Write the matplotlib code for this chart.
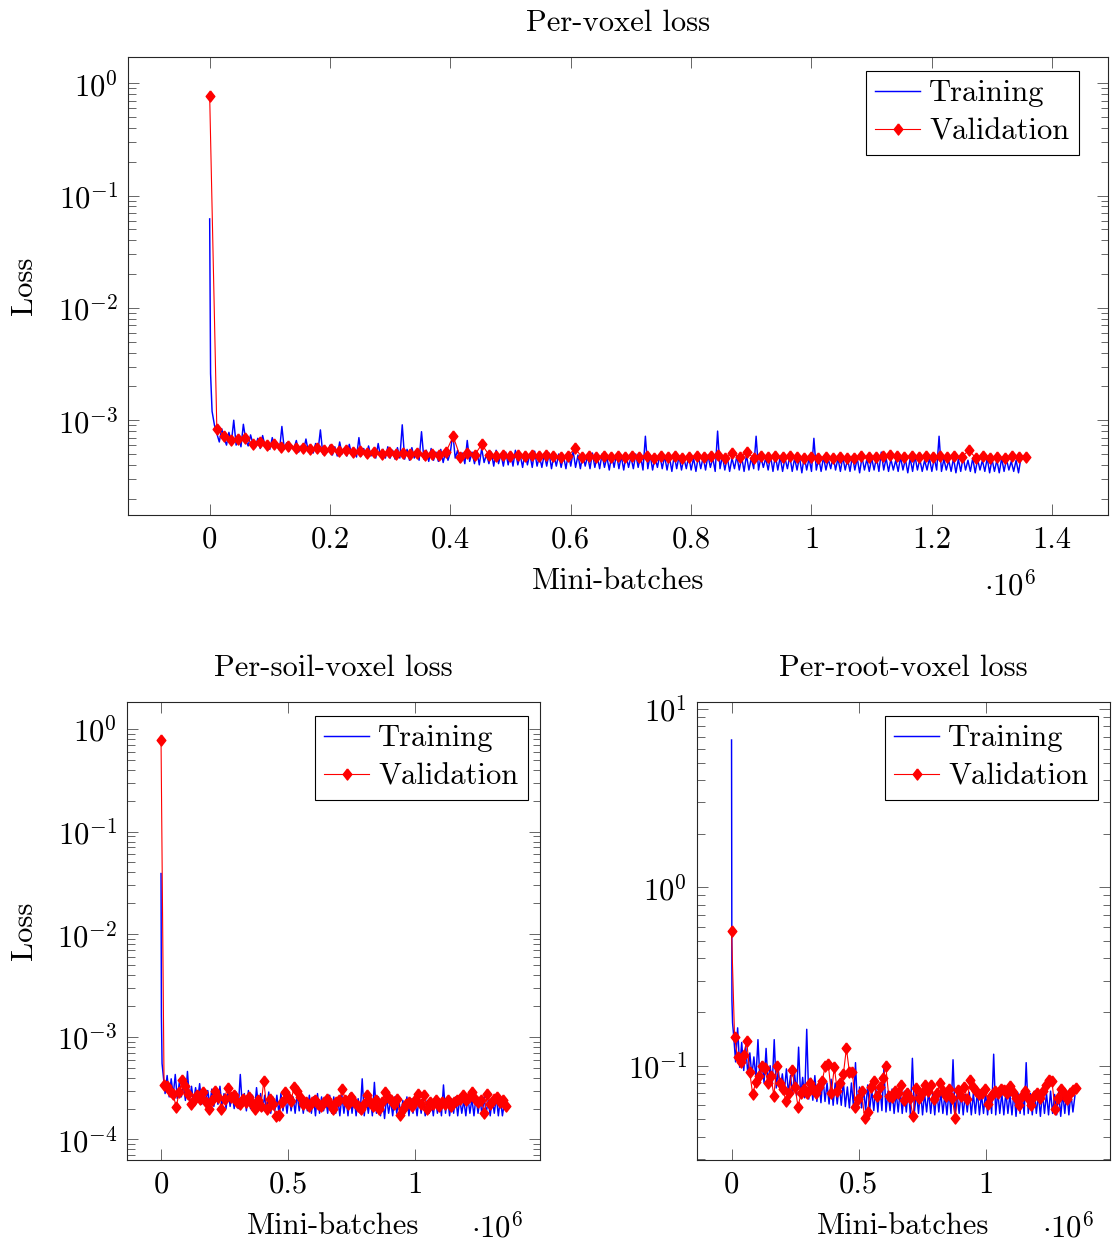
import numpy as np
import matplotlib
matplotlib.use('Agg')
import matplotlib.pyplot as plt

# Computer Modern look (pgfplots style)
plt.rcParams['font.family'] = 'serif'
plt.rcParams['font.serif'] = ['cmr10']
plt.rcParams['mathtext.fontset'] = 'cm'
plt.rcParams['axes.unicode_minus'] = False
plt.rcParams['axes.formatter.use_mathtext'] = True

FS = 22
VAL_STEP = 11900      # validation every ~11.9k mini-batches

# ---------- Per-voxel loss ----------
VOXEL_STEP = 4000
voxel_warm_x = [0, 1500]
voxel_warm = [0.062, 0.0026]
voxel_train = np.array([
    12, 9.0, 7.6, 6.4, 8.4, 6.9, 6.0, 7.8, 6.3, 10.0, 6.0, 7.2, 5.8, 9.2, 6.6, 5.9, 7.4, 6.1, 5.7, 6.9, 5.6, 7.3, 5.9, 6.5, 5.5,
    7.0, 5.6, 6.2, 5.4, 8.8, 5.5, 6.3, 5.3, 6.0, 5.6, 6.6, 5.2, 5.9, 5.4, 6.8, 5.2, 5.8, 5.1, 6.2, 5.3, 8.2, 5.0, 5.7, 5.2, 6.0,
    4.9, 5.8, 4.8, 6.4, 5.0, 5.6, 4.8, 6.1, 4.9, 5.5, 4.7, 7.0, 4.8, 5.6, 4.7, 5.9, 4.8, 5.4, 4.6, 6.2, 4.7, 5.5, 4.6, 5.8, 4.6,
    5.4, 4.5, 5.7, 4.6, 9.1, 4.5, 5.5, 4.4, 5.7, 4.6, 5.3, 4.4, 7.9, 4.5, 5.4, 4.3, 5.6, 4.4, 5.2, 4.3, 5.5, 4.2, 5.3, 4.4, 5.2,
    7.7, 4.6, 5.4, 4.2, 5.1, 4.1, 6.6, 4.3, 5.2, 4.1, 5.3, 4.0, 5.6, 4.2, 5.0, 4.1, 5.2, 3.9, 5.4, 4.1, 5.0, 3.9, 5.2, 4.0, 5.1,
    3.9, 5.4, 4.0, 4.9, 3.8, 5.2, 4.0, 5.0, 3.8, 5.3, 3.9, 4.8, 3.8, 5.0, 3.9, 5.1, 3.7, 4.9, 3.9, 5.0, 3.8, 4.8, 3.7, 5.1, 3.9,
    5.3, 3.8, 4.9, 3.7, 5.0, 3.9, 4.8, 3.7, 5.1, 3.8, 4.8, 3.7, 5.0, 3.8, 4.7, 3.6, 4.9, 3.8, 5.0, 3.7, 4.8, 3.6, 4.9, 3.8, 4.7,
    3.7, 5.0, 3.8, 4.8, 3.6, 7.2, 3.7, 4.9, 3.6, 4.7, 3.8, 4.9, 3.7, 4.8, 3.6, 4.7, 3.5, 4.9, 3.7, 4.8, 3.6, 4.6, 3.7, 4.8, 3.6,
    4.6, 3.5, 4.8, 3.7, 4.7, 3.6, 4.9, 3.8, 4.6, 3.5, 8.0, 3.7, 4.8, 3.6, 4.7, 3.5, 4.6, 3.7, 4.8, 3.6, 4.7, 3.5, 4.9, 3.6, 4.6,
    3.7, 7.2, 3.6, 4.7, 3.8, 4.6, 3.6, 4.8, 3.5, 4.9, 3.6, 4.7, 3.5, 4.6, 3.7, 4.8, 3.5, 4.6, 3.6, 4.7, 3.4, 4.8, 3.6, 4.6, 3.5,
    6.9, 3.6, 4.6, 3.5, 4.7, 3.6, 4.5, 3.7, 4.8, 3.6, 4.6, 3.5, 4.7, 3.6, 4.5, 3.5, 4.8, 3.6, 4.6, 3.4, 4.7, 3.6, 4.5, 3.5, 4.6,
    3.6, 4.7, 3.5, 5.2, 3.6, 4.6, 3.5, 4.5, 3.6, 4.4, 3.5, 4.7, 3.6, 4.5, 3.4, 4.6, 3.5, 4.8, 3.6, 4.5, 3.5, 4.4, 3.6, 4.6, 3.5,
    4.6, 3.6, 7.2, 3.5, 4.5, 3.6, 4.4, 3.5, 4.6, 3.4, 4.5, 3.5, 4.7, 3.6, 4.4, 3.5, 4.6, 3.4, 4.5, 3.6, 4.4, 3.5, 4.6, 3.4, 4.5,
    3.5, 4.4, 3.4, 4.6, 3.5, 4.5, 3.6, 4.3, 3.5, 4.4, 3.4, 4.6, 4.8]) * 1e-4
voxel_val = np.array([
    7750, 8.4, 7.3, 6.6, 6.8, 6.9, 6.2, 6.4, 6.0, 6.1, 5.8, 5.9, 5.7, 5.6, 5.5,
    5.6, 5.4, 5.5, 5.3, 5.4, 5.2, 5.3, 5.1, 5.2, 5.0, 5.2, 5.0, 5.1, 5.0, 5.1,
    4.9, 5.0, 4.9, 5.2, 7.2, 4.7, 5.1, 4.9, 6.1, 4.9, 4.8, 4.9, 4.8, 4.9, 4.8,
    4.9, 4.8, 4.9, 4.8, 4.7, 4.8, 5.6, 4.7, 4.8, 4.7, 4.8, 4.7, 4.8, 4.7, 4.8,
    4.7, 4.8, 4.6, 4.8, 4.7, 4.8, 4.6, 4.7, 4.8, 4.7, 4.8, 4.9, 4.6, 5.1, 4.7,
    5.2, 4.6, 4.8, 4.7, 4.8, 4.7, 4.8, 4.7, 4.6, 4.7, 4.6, 4.7, 4.6, 4.7, 4.6,
    4.6, 4.8, 4.7, 4.7, 4.8, 4.9, 4.8, 4.7, 4.8, 4.7, 4.8, 4.7, 4.8, 4.7, 4.8,
    4.7, 5.4, 4.6, 4.8, 4.6, 4.7, 4.6, 4.8, 4.7, 4.7]) * 1e-4

# ---------- Per-soil-voxel loss ----------
SOIL_STEP = 8000
soil_warm_x = [0, 1500, 4000]
soil_warm = [0.039, 0.0016, 0.00055]
soil_train = np.array([
    4.4, 2.8, 4.2, 2.6, 3.9, 2.7, 4.3, 2.5, 3.6, 2.6, 3.4, 2.4,
    4.6, 2.4, 3.3, 2.3, 3.2, 2.4, 3.5, 2.2, 3.1, 2.3, 3.0, 2.2,
    3.1, 2.1, 2.9, 2.2, 3.3, 2.1, 2.8, 2.0, 3.0, 2.1, 2.8, 2.0,
    2.9, 2.0, 4.3, 2.1, 2.8, 1.9, 3.0, 2.0, 2.7, 1.9, 3.2, 2.0,
    2.8, 1.9, 2.7, 1.9, 2.9, 1.8, 2.6, 1.9, 2.7, 1.8, 2.8, 1.9,
    2.6, 1.8, 2.7, 1.9, 2.6, 1.8, 2.8, 1.9, 2.6, 1.8, 2.5, 1.9,
    2.7, 1.8, 2.6, 1.7, 2.8, 1.8, 2.6, 1.9, 2.5, 1.8, 2.7, 1.8,
    2.6, 1.8, 2.5, 1.7, 2.7, 1.8, 2.6, 1.7, 2.8, 1.8, 2.6, 1.7,
    2.5, 1.8, 3.9, 1.7, 2.6, 1.8, 2.5, 1.7, 3.6, 1.8, 2.6, 1.7,
    2.5, 1.6, 2.6, 1.8, 2.4, 1.7, 2.6, 1.8, 2.5, 1.7, 2.4, 1.8,
    2.6, 1.7, 2.5, 1.8, 2.4, 1.7, 2.6, 1.8, 2.5, 1.7, 2.4, 1.8,
    2.5, 1.7, 2.6, 1.8, 2.5, 1.7, 3.4, 1.8, 2.6, 1.7, 2.5, 1.8,
    2.6, 1.7, 2.5, 1.8, 2.4, 1.7, 2.6, 1.8, 2.5, 1.7, 2.6, 1.8,
    2.5, 1.7, 2.6, 1.8, 2.4, 1.7, 2.5, 1.8, 2.6, 1.7, 2.5, 1.7, 2.3]) * 1e-4
soil_val = np.array([
    7800, 3.4, 3.3, 3.0, 2.8, 2.05, 2.9, 3.8, 3.3, 2.8, 2.2, 2.4, 2.7, 2.5, 2.9,
    2.3, 2.0, 2.4, 3.0, 2.6, 2.0, 2.5, 3.2, 2.6, 2.7, 2.3, 2.2, 2.5, 2.3, 2.6,
    2.2, 2.0, 2.4, 2.1, 3.7, 2.0, 2.5, 2.2, 1.7, 1.75, 2.3, 2.9, 2.6, 2.35, 3.25,
    3.0, 2.6, 2.2, 2.3, 2.1, 2.3, 2.4, 2.2, 2.1, 2.3, 2.5, 2.2, 2.0, 2.3, 2.4,
    3.1, 2.4, 2.2, 2.6, 2.3, 2.1, 2.0, 2.2, 2.7, 2.3, 2.1, 2.4, 2.0, 2.3, 2.9,
    2.6, 2.4, 2.2, 2.5, 1.75, 2.0, 2.2, 2.3, 2.1, 2.4, 2.8, 2.2, 2.7, 2.0, 2.3,
    2.2, 2.4, 2.1, 2.3, 2.2, 2.4, 2.1, 2.3, 2.4, 2.5, 2.7, 2.4, 2.6, 2.9, 2.5,
    2.3, 2.4, 1.8, 2.8, 2.2, 2.5, 2.6, 2.3, 2.4, 2.1]) * 1e-4

# ---------- Per-root-voxel loss ----------
ROOT_STEP = 8000
root_warm_x = [0, 1500, 4000]
root_warm = [6.7, 0.233, 0.174]
root_train = np.array([
    0.150, 0.105, 0.163, 0.098, 0.135, 0.094, 0.128, 0.090, 0.118, 0.088, 0.112, 0.085,
    0.140, 0.082, 0.105, 0.080, 0.125, 0.078, 0.100, 0.077, 0.140, 0.075, 0.095, 0.074,
    0.090, 0.072, 0.096, 0.070, 0.088, 0.069, 0.092, 0.068, 0.127, 0.067, 0.086, 0.066,
    0.160, 0.065, 0.085, 0.064, 0.088, 0.063, 0.082, 0.062, 0.086, 0.063, 0.080, 0.061,
    0.084, 0.060, 0.080, 0.061, 0.078, 0.060, 0.082, 0.059, 0.076, 0.058, 0.080, 0.059,
    0.104, 0.057, 0.076, 0.058, 0.074, 0.056, 0.078, 0.057, 0.073, 0.056, 0.075, 0.055,
    0.076, 0.056, 0.097, 0.055, 0.072, 0.056, 0.074, 0.054, 0.071, 0.055, 0.073, 0.054,
    0.072, 0.055, 0.074, 0.053, 0.110, 0.055, 0.071, 0.054, 0.073, 0.053, 0.070, 0.055,
    0.072, 0.054, 0.070, 0.053, 0.073, 0.055, 0.071, 0.054, 0.069, 0.053, 0.072, 0.054,
    0.108, 0.053, 0.070, 0.054, 0.072, 0.053, 0.069, 0.055, 0.071, 0.053, 0.070, 0.054,
    0.072, 0.053, 0.069, 0.054, 0.071, 0.053, 0.070, 0.054, 0.116, 0.053, 0.072, 0.054,
    0.070, 0.053, 0.071, 0.054, 0.069, 0.053, 0.072, 0.052, 0.070, 0.054, 0.071, 0.053,
    0.104, 0.054, 0.070, 0.053, 0.072, 0.054, 0.069, 0.052, 0.071, 0.054, 0.070, 0.053,
    0.072, 0.054, 0.069, 0.053, 0.071, 0.052, 0.070, 0.054, 0.072, 0.053, 0.070, 0.055, 0.068])
root_val = np.array([
    0.571, 0.144, 0.112, 0.105, 0.115, 0.138, 0.0925, 0.069, 0.081, 0.088, 0.099,
    0.097, 0.080, 0.088, 0.068, 0.100, 0.080, 0.074, 0.063, 0.070, 0.094, 0.076,
    0.059, 0.070, 0.074, 0.070, 0.080, 0.074, 0.070, 0.076, 0.082, 0.100, 0.102,
    0.070, 0.098, 0.072, 0.080, 0.090, 0.125, 0.092, 0.092, 0.059, 0.065, 0.072,
    0.051, 0.055, 0.076, 0.082, 0.068, 0.076, 0.085, 0.100, 0.068, 0.067, 0.072,
    0.070, 0.078, 0.064, 0.070, 0.066, 0.052, 0.075, 0.066, 0.070, 0.078, 0.072,
    0.078, 0.065, 0.070, 0.080, 0.072, 0.068, 0.074, 0.066, 0.051, 0.073, 0.068,
    0.076, 0.065, 0.083, 0.076, 0.072, 0.069, 0.070, 0.074, 0.061, 0.068, 0.072,
    0.070, 0.074, 0.073, 0.070, 0.077, 0.071, 0.066, 0.060, 0.068, 0.072, 0.066,
    0.060, 0.068, 0.070, 0.066, 0.072, 0.078, 0.083, 0.082, 0.057, 0.066, 0.074,
    0.070, 0.065, 0.070, 0.073, 0.075])

DIAMOND = [(0, 1), (0.78, 0), (0, -1), (-0.78, 0), (0, 1)]


def panel(ax, warm_x, warm, step, train, val, title, xlim, ylim, xticks, xlabels,
          ydec, ylabel=None):
    tx = np.concatenate([warm_x, step * np.arange(1, len(train) + 1)])
    ty = np.concatenate([warm, train])
    vx = VAL_STEP * np.arange(len(val))
    ax.plot(tx, ty, color='#0000ff', lw=1.05, label='Training')
    ax.plot(vx, val, color='#ff0000', lw=0.8, marker=DIAMOND, ms=8,
            mec='#ff0000', mfc='#ff0000', label='Validation')
    ax.set_yscale('log')
    ax.set_xlim(*xlim)
    ax.set_ylim(*ylim)
    ax.set_xticks(xticks)
    ax.set_xticklabels(xlabels)
    ax.minorticks_off()
    ax.set_yticks([10.0 ** d for d in ydec])
    ax.set_yticklabels([r'$10^{%d}$' % d for d in ydec])
    minors = [m * 10.0 ** d for d in range(-6, 2) for m in range(2, 10)]
    minors = [m for m in minors if ylim[0] < m < ylim[1]]
    ax.set_yticks(minors, minor=True)
    ax.tick_params(which='both', direction='in', top=True, right=True,
                   color='0.4', width=0.7, labelsize=FS)
    ax.tick_params(which='major', length=8)
    ax.tick_params(which='minor', length=5.4)
    ax.tick_params(axis='x', pad=8)
    ax.tick_params(axis='y', pad=7)
    for s in ax.spines.values():
        s.set_linewidth(0.8)
        s.set_color('0.15')
    ax.set_title(title, fontsize=FS, pad=19)
    ax.set_xlabel('Mini-batches', fontsize=FS)
    ax.xaxis.set_label_coords(0.5, -53 / 458)
    if ylabel:
        ax.set_ylabel(ylabel, fontsize=FS)
    leg = ax.legend(loc='upper right', bbox_to_anchor=(0.97, 0.97), borderaxespad=0,
                    fontsize=FS, fancybox=False, edgecolor='black', framealpha=1,
                    handlelength=1.47, handletextpad=0.3, labelspacing=0.36,
                    borderpad=0.3)
    leg.get_frame().set_linewidth(0.8)
    return ax


fig = plt.figure(figsize=(11.13, 12.47), dpi=100)

ax1 = fig.add_axes([128 / 1113, 1 - 515 / 1247, 980 / 1113, 458 / 1247])
panel(ax1, voxel_warm_x, voxel_warm, VOXEL_STEP, voxel_train, voxel_val, 'Per-voxel loss',
      (-0.1357e6, 1.4927e6), (1.432e-4, 1.714),
      [0, 0.2e6, 0.4e6, 0.6e6, 0.8e6, 1.0e6, 1.2e6, 1.4e6],
      ['0', '0.2', '0.4', '0.6', '0.8', '1', '1.2', '1.4'],
      [0, -1, -2, -3], ylabel='Loss')
ax1.yaxis.set_label_coords(-(128 - 38) / 980, 0.5)
ax1.text((1010 - 128) / 980, -55 / 458, r'$\cdot 10^{6}$', transform=ax1.transAxes,
         fontsize=FS, ha='center', va='top')

ax2 = fig.add_axes([127 / 1113, 1 - 1160 / 1247, 413 / 1113, 458 / 1247])
panel(ax2, soil_warm_x, soil_warm, SOIL_STEP, soil_train, soil_val, 'Per-soil-voxel loss',
      (-0.134e6, 1.492e6), (6.31e-5, 1.83),
      [0, 0.5e6, 1.0e6], ['0', '0.5', '1'],
      [0, -1, -2, -3, -4], ylabel='Loss')
ax2.yaxis.set_label_coords(-(127 - 38) / 413, 0.5)
ax2.text((497 - 127) / 413, -52 / 458, r'$\cdot 10^{6}$', transform=ax2.transAxes,
         fontsize=FS, ha='center', va='top')

ax3 = fig.add_axes([697 / 1113, 1 - 1160 / 1247, 413 / 1113, 458 / 1247])
panel(ax3, root_warm_x, root_warm, ROOT_STEP, root_train, root_val, 'Per-root-voxel loss',
      (-0.136e6, 1.49e6), (0.0296, 10.94),
      [0, 0.5e6, 1.0e6], ['0', '0.5', '1'],
      [1, 0, -1])
ax3.text((1068 - 697) / 413, -52 / 458, r'$\cdot 10^{6}$', transform=ax3.transAxes,
         fontsize=FS, ha='center', va='top')

fig.savefig('out.png', dpi=100)
